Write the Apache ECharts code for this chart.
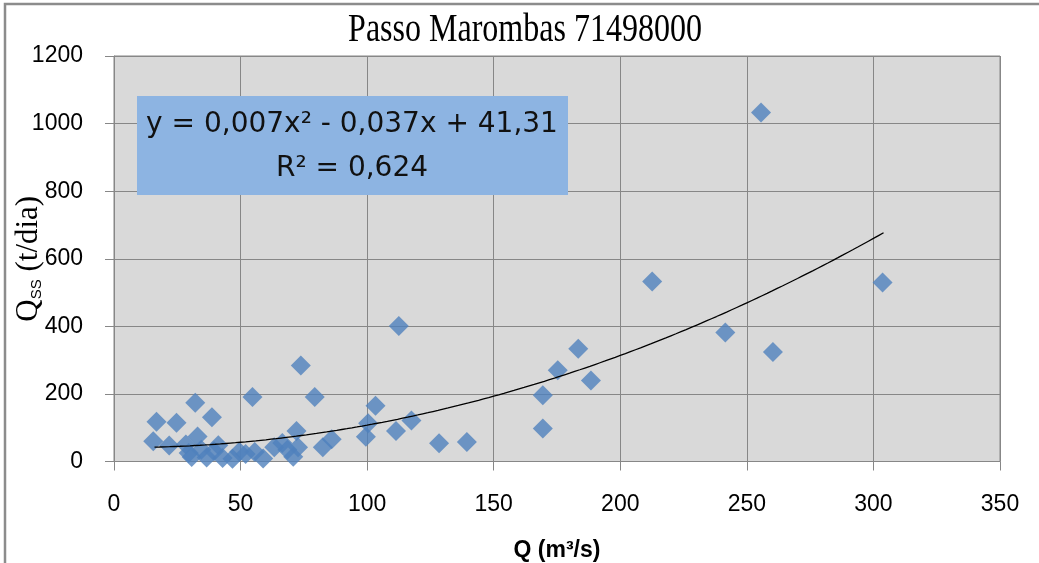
<!DOCTYPE html>
<html>
<head>
<meta charset="utf-8">
<title>Passo Marombas 71498000</title>
<script src="https://cdn.jsdelivr.net/npm/echarts@6/dist/echarts.min.js"></script>
<style>
  html, body { margin: 0; padding: 0; background: #ffffff; }
  #chart { width: 1039px; height: 563px; }
</style>
</head>
<body>
<div id="chart"></div>
<script>
// Measured discharge Q (m³/s) and suspended sediment load Qss (t/dia)
const qDischarge = [
  15.5, 21.8, 28.4, 33.0, 29.5, 30.7, 34.5, 36.6, 39.5, 41.2,
  42.9, 46.8, 49.5, 52.0, 55.6, 58.9, 63.3, 66.5, 68.5, 70.8,
  72.1, 72.7, 82.5, 86.0,
  16.8, 24.7, 32.1, 38.7, 54.7, 73.8, 79.3,
  99.5, 100.4, 103.3, 111.4, 112.5, 117.5, 128.4, 139.4,
  169.4, 169.4, 175.3, 183.4, 188.4, 212.6, 241.5, 255.6, 260.3, 303.6
];
const qssLoad = [
  60, 47, 50, 74, 25, 13, 35, 12, 30, 48,
  10, 8, 29, 22, 28, 9, 42, 55, 35, 14,
  90, 42, 42, 66,
  118, 115, 174, 131, 191, 284, 191,
  73, 113, 165, 90, 401, 121, 54, 58,
  98, 196, 270, 334, 240, 533, 382, 1033, 324, 530
];

// Polynomial trend (2nd order) as printed on the chart
const trendCoef = [0.007, -0.037, 41.31];   // a·x² + b·x + c
const trendRange = [16, 304];
const trendLabel = ['y = 0,007x\u00B2 - 0,037x + 41,31', 'R\u00B2 = 0,624'];

const xTicks = { min: 0, max: 350, interval: 50 };
const yTicks = { min: 0, max: 1200, interval: 200 };

const points = qDischarge.map((q, i) => [q, qssLoad[i]]);
const trend = [];
for (let x = trendRange[0]; x <= trendRange[1]; x += 2) {
  trend.push([x, trendCoef[0] * x * x + trendCoef[1] * x + trendCoef[2]]);
}

const chart = echarts.init(document.getElementById('chart'), null, { renderer: 'canvas' });
const axisGray = '#878787';
const labelFont = { fontFamily: 'Liberation Sans', fontSize: 23, color: '#000', formatter: v => String(v) };

chart.setOption({
  animation: false,
  backgroundColor: '#ffffff',
  grid: {
    left: 114, right: 39, top: 56, bottom: 101.5,
    containLabel: false, outerBoundsMode: 'none',
    show: true, backgroundColor: '#D9D9D9', borderColor: axisGray, borderWidth: 1
  },
  xAxis: {
    type: 'value', min: xTicks.min, max: xTicks.max, interval: xTicks.interval,
    name: 'Q (m\u00B3/s)', nameLocation: 'middle', nameGap: 78, nameMoveOverlap: false,
    nameTextStyle: { fontFamily: 'Liberation Sans', fontSize: 23, fontWeight: 'bold', color: '#000' },
    axisLine: { show: true, lineStyle: { color: axisGray, width: 1 } },
    axisTick: { show: true, inside: false, length: 9, lineStyle: { color: axisGray } },
    axisLabel: Object.assign({ margin: 32 }, labelFont),
    splitLine: { show: true, lineStyle: { color: axisGray, width: 1 } }
  },
  yAxis: {
    type: 'value', min: yTicks.min, max: yTicks.max, interval: yTicks.interval,
    name: '{q|Q}{s|SS}{t| (t/dia)}', nameLocation: 'middle', nameGap: 70, nameRotate: 90,
    nameMoveOverlap: false,
    nameTextStyle: {
      fontFamily: 'Liberation Serif', color: '#000',
      rich: {
        q: { fontFamily: 'Liberation Serif', fontSize: 31, lineHeight: 34, verticalAlign: 'bottom', color: '#000' },
        s: { fontFamily: 'Liberation Sans', fontSize: 15, lineHeight: 34, verticalAlign: 'bottom', color: '#000' },
        t: { fontFamily: 'Liberation Serif', fontSize: 31, lineHeight: 34, verticalAlign: 'bottom', color: '#000' }
      }
    },
    axisLine: { show: true, lineStyle: { color: axisGray, width: 1 } },
    axisTick: { show: true, inside: false, length: 9, lineStyle: { color: axisGray } },
    axisLabel: Object.assign({ margin: 31 }, labelFont),
    splitLine: { show: true, lineStyle: { color: axisGray, width: 1 } }
  },
  graphic: [
    {
      type: 'rect', silent: true, z: -10,
      shape: { x: 5, y: 4, width: 1200, height: 700 },
      style: { fill: 'none', stroke: '#8c8c8c', lineWidth: 2.5 }
    },
    {
      type: 'text', x: 525, y: 30, scaleY: 1.25, z: 10,
      style: {
        text: 'Passo Marombas 71498000', x: 0, y: 0,
        align: 'center', verticalAlign: 'middle',
        fontFamily: 'Liberation Serif', fontSize: 32, fill: '#000'
      }
    },
    {
      type: 'rect', z: 20,
      shape: { x: 137, y: 96, width: 431, height: 99 },
      style: { fill: '#8DB4E2' }
    },
    {
      type: 'text', x: 352, y: 125, z: 21,
      style: {
        text: trendLabel[0], align: 'center', verticalAlign: 'middle',
        fontFamily: 'DejaVu Sans', fontSize: 28, fill: '#111'
      }
    },
    {
      type: 'text', x: 352, y: 169, z: 21,
      style: {
        text: trendLabel[1], align: 'center', verticalAlign: 'middle',
        fontFamily: 'DejaVu Sans', fontSize: 28, fill: '#111'
      }
    }
  ],
  series: [
    {
      type: 'scatter', data: points, symbol: 'diamond', symbolSize: 20,
      itemStyle: { color: '#4F81BD' }, z: 3
    },
    {
      type: 'line', data: trend, showSymbol: false, symbol: 'none', smooth: false,
      lineStyle: { color: '#000', width: 1.3 }, z: 4
    }
  ]
});
</script>
</body>
</html>
